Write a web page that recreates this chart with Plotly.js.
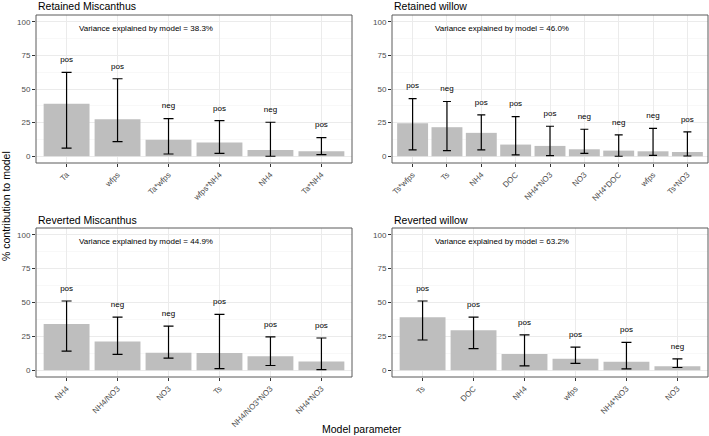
<!DOCTYPE html>
<html>
<head>
<meta charset="utf-8">
<script src="https://cdn.plot.ly/plotly-3.0.1.min.js"></script>
<style>html,body{margin:0;padding:0;background:#fff;}#chart{width:709px;height:436px;}</style>
</head>
<body>
<div id="chart"></div>
<script>
// ---- Data ----
const rmParams = ["Ta", "wfps", "Ta*wfps", "wfps*NH4", "NH4", "Ta*NH4"];
const rmValues = [39.0, 27.5, 12.2, 10.2, 4.7, 3.7];
const rmLower  = [6.0, 10.9, 1.7, 2.2, 0.0, 1.2];
const rmUpper  = [62.3, 57.6, 28.0, 26.5, 25.3, 13.9];
const rmSign   = ["pos", "pos", "neg", "pos", "neg", "pos"];
const rmVariance = 38.3;

const rwParams = ["Ts*wfps", "Ts", "NH4", "DOC", "NH4*NO3", "NO3", "NH4*DOC", "wfps", "Ts*NO3"];
const rwValues = [24.6, 21.6, 17.4, 8.7, 7.7, 5.2, 4.2, 3.7, 3.2];
const rwLower  = [4.7, 4.2, 4.7, 1.0, 0.5, 2.2, 0.0, 0.7, 0.2];
const rwUpper  = [42.9, 40.7, 30.8, 29.5, 22.3, 20.1, 15.9, 20.8, 18.1];
const rwSign   = ["pos", "neg", "pos", "pos", "pos", "neg", "neg", "neg", "pos"];
const rwVariance = 46.0;

const vmParams = ["NH4", "NH4/NO3", "NO3", "Ts", "NH4/NO3*NO3", "NH4*NO3"];
const vmValues = [34.2, 21.3, 12.9, 12.7, 10.4, 6.5];
const vmLower  = [14.1, 11.7, 8.9, 1.2, 3.5, 0.5];
const vmUpper  = [51.1, 39.2, 32.5, 41.2, 24.6, 23.8];
const vmSign   = ["pos", "neg", "neg", "pos", "pos", "pos"];
const vmVariance = 44.9;

const vwParams = ["Ts", "DOC", "NH4", "wfps", "NH4*NO3", "NO3"];
const vwValues = [39.2, 29.5, 11.9, 8.4, 6.2, 3.0];
const vwLower  = [22.3, 15.9, 3.2, 5.0, 1.0, 2.0];
const vwUpper  = [51.1, 39.2, 26.1, 17.1, 20.6, 8.4];
const vwSign   = ["pos", "pos", "pos", "pos", "pos", "neg"];
const vwVariance = 63.2;

const yTicks = [0, 25, 50, 75, 100];

// ---- Layout helpers ----
const W = 709, H = 436;
const panels = [
  {name: "Retained Miscanthus", p: rmParams, v: rmValues, lo: rmLower, hi: rmUpper, s: rmSign, ve: rmVariance, box: [36, 352, 15, 163], ty: 6.5, cap: 5},
  {name: "Retained willow", p: rwParams, v: rwValues, lo: rwLower, hi: rwUpper, s: rwSign, ve: rwVariance, box: [392, 708, 15, 163], ty: 6.5, cap: 4},
  {name: "Reverted Miscanthus", p: vmParams, v: vmValues, lo: vmLower, hi: vmUpper, s: vmSign, ve: vmVariance, box: [36, 352, 228, 377], ty: 219.5, cap: 5},
  {name: "Reverted willow", p: vwParams, v: vwValues, lo: vwLower, hi: vwUpper, s: vwSign, ve: vwVariance, box: [392, 708, 228, 377], ty: 219.5, cap: 5}
];

const traces = [];
const layout = {
  width: W, height: H,
  margin: {l: 0, r: 0, t: 0, b: 0},
  paper_bgcolor: "#ffffff",
  plot_bgcolor: "#ffffff",
  showlegend: false,
  bargap: 0.1,
  font: {family: "Liberation Sans, Arial, sans-serif", color: "#000"},
  annotations: [],
  shapes: []
};

panels.forEach((pn, i) => {
  const k = i + 1;
  const xa = "x" + (k === 1 ? "" : k), ya = "y" + (k === 1 ? "" : k);
  const xkey = "xaxis" + (k === 1 ? "" : k), ykey = "yaxis" + (k === 1 ? "" : k);
  const [x0, x1, yt, yb] = pn.box;
  const n = pn.p.length;

  traces.push({
    type: "bar", x: pn.p, y: pn.v, xaxis: xa, yaxis: ya,
    marker: {color: "#bebebe", line: {width: 0}},
    error_y: {
      type: "data", symmetric: false,
      array: pn.hi.map((h, j) => h - pn.v[j]),
      arrayminus: pn.v.map((v, j) => v - pn.lo[j]),
      color: "#000000", thickness: 1.2, width: pn.cap
    },
    hoverinfo: "skip"
  });
  traces.push({
    type: "scatter", mode: "text", x: pn.p, y: pn.hi.map(h => h + 9),
    text: pn.s, xaxis: xa, yaxis: ya,
    textfont: {size: 8, color: "#000", family: "Liberation Sans, Arial, sans-serif"},
    textposition: "middle center", hoverinfo: "skip", cliponaxis: false
  });

  layout[xkey] = {
    domain: [x0 / W, x1 / W], anchor: ya,
    type: "category", range: [-0.6, n - 0.4],
    showgrid: true, gridcolor: "#ebebeb", gridwidth: 1,
    tickangle: -45, ticks: "outside", ticklen: 3, tickcolor: "#333333", tickwidth: 1,
    tickfont: {size: 8, color: "#4d4d4d"},
    showline: false, zeroline: false, fixedrange: true
  };
  layout[ykey] = {
    domain: [1 - yb / H, 1 - yt / H], anchor: xa,
    range: [-5, 105], tickvals: yTicks,
    showgrid: true, gridcolor: "#ebebeb", gridwidth: 1,
    minor: {dtick: 12.5, tick0: 0, showgrid: true, gridcolor: "#f4f4f4", gridwidth: 0.6},
    ticks: "outside", ticklen: 3, tickcolor: "#333333", tickwidth: 1,
    tickfont: {size: 8, color: "#4d4d4d"},
    showline: false, zeroline: false, fixedrange: true
  };
  // panel border
  layout.shapes.push({type: "rect", xref: xa + " domain", yref: ya + " domain",
    x0: 0, x1: 1, y0: 0, y1: 1, line: {color: "#5a5a5a", width: 1}, fillcolor: "rgba(0,0,0,0)", layer: "above"});
  // panel title
  layout.annotations.push({text: pn.name, xref: "paper", yref: "paper",
    x: x0 / W, y: 1 - pn.ty / H, xanchor: "left", yanchor: "middle", showarrow: false,
    font: {size: 10.5, color: "#000"}});
  // variance text
  layout.annotations.push({text: "Variance explained by model = " + pn.ve.toFixed(1) + "%",
    xref: xa + " domain", yref: ya, x: 41 / 316, y: 95, xanchor: "left", yanchor: "middle",
    showarrow: false, font: {size: 8, color: "#000"}});
});

// shared axis titles
layout.annotations.push({text: "% contribution to model", xref: "paper", yref: "paper",
  x: 6 / W, y: 1 - 206 / H, textangle: -90, xanchor: "center", yanchor: "middle",
  showarrow: false, font: {size: 10.5, color: "#000"}});
layout.annotations.push({text: "Model parameter", xref: "paper", yref: "paper",
  x: 362 / W, y: 1 - 429 / H, xanchor: "center", yanchor: "middle",
  showarrow: false, font: {size: 10.5, color: "#000"}});

Plotly.newPlot("chart", traces, layout, {staticPlot: true, displayModeBar: false});
</script>
</body>
</html>
